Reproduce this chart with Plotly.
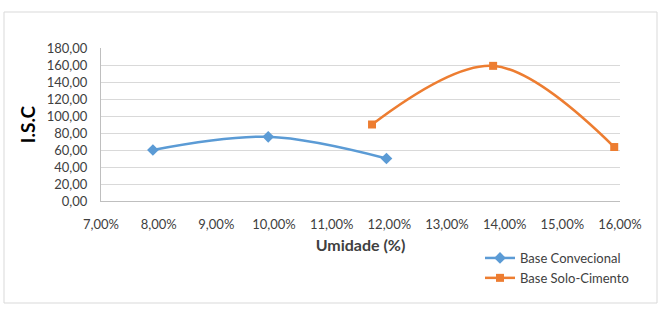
import plotly.graph_objects as go

# Data
conv_x = [7.9, 9.9, 11.95]
conv_y = [60.0, 75.5, 50.0]
solo_x = [11.7, 13.8, 15.9]
solo_y = [90.0, 159.0, 63.5]

x_ticks = [7, 8, 9, 10, 11, 12, 13, 14, 15, 16]
x_ticktext = ["7,00%", "8,00%", "9,00%", "10,00%", "11,00%", "12,00%",
              "13,00%", "14,00%", "15,00%", "16,00%"]
y_ticks = [0, 20, 40, 60, 80, 100, 120, 140, 160, 180]
y_ticktext = ["0,00", "20,00", "40,00", "60,00", "80,00", "100,00",
              "120,00", "140,00", "160,00", "180,00"]

FONT = "Lato"
W, H = 664, 310
L, R, T, B = 101, 44, 48, 109
pw, ph = W - L - R, H - T - B

def px(x):
    return (x - L) / pw

def py(y):
    return (H - B - y) / ph

fig = go.Figure()
fig.add_trace(go.Scatter(
    x=conv_x, y=conv_y, name="Base Convecional", mode="lines+markers",
    line=dict(color="#5B9BD5", width=2.5, shape="spline", smoothing=1),
    marker=dict(symbol="diamond", size=9, color="#5B9BD5"),
))
fig.add_trace(go.Scatter(
    x=solo_x, y=solo_y, name="Base Solo-Cimento", mode="lines+markers",
    line=dict(color="#ED7D31", width=2.5, shape="spline", smoothing=1),
    marker=dict(symbol="square", size=8, color="#ED7D31"),
))

fig.update_layout(
    width=W, height=H,
    margin=dict(l=L, r=R, t=T, b=B),
    paper_bgcolor="white", plot_bgcolor="white",
    font=dict(family=FONT, size=13, color="#404040"),
    showlegend=True,
    legend=dict(x=px(480), y=py(243), xanchor="left", yanchor="top",
                bgcolor="rgba(0,0,0,0)", font=dict(size=13, color="#404040"),
                tracegroupgap=2, itemwidth=30),
    xaxis=dict(range=[7, 16], tickvals=x_ticks, ticktext=x_ticktext,
               showgrid=False, zeroline=False, showline=True,
               linecolor="#BFBFBF", linewidth=1, ticks="",
               ticklabelstandoff=11,
               title=dict(text="<b>Umidade (%)</b>", font=dict(size=16, color="#404040"),
                          standoff=9)),
    yaxis=dict(range=[0, 180], tickvals=y_ticks, ticktext=y_ticktext,
               showgrid=True, gridcolor="#D9D9D9", gridwidth=1,
               zeroline=False, showline=True, linecolor="#BFBFBF", linewidth=1,
               ticks="", ticklabelstandoff=10,
               title=dict(text="<b>I.S.C</b>", font=dict(size=19, color="#000000"),
                          standoff=6)),
    shapes=[dict(type="rect", xref="paper", yref="paper",
                 x0=px(4), x1=px(657), y0=py(303), y1=py(12),
                 line=dict(color="#D9D9D9", width=1), fillcolor="rgba(0,0,0,0)",
                 layer="below")],
)

fig.write_html("out.html")
